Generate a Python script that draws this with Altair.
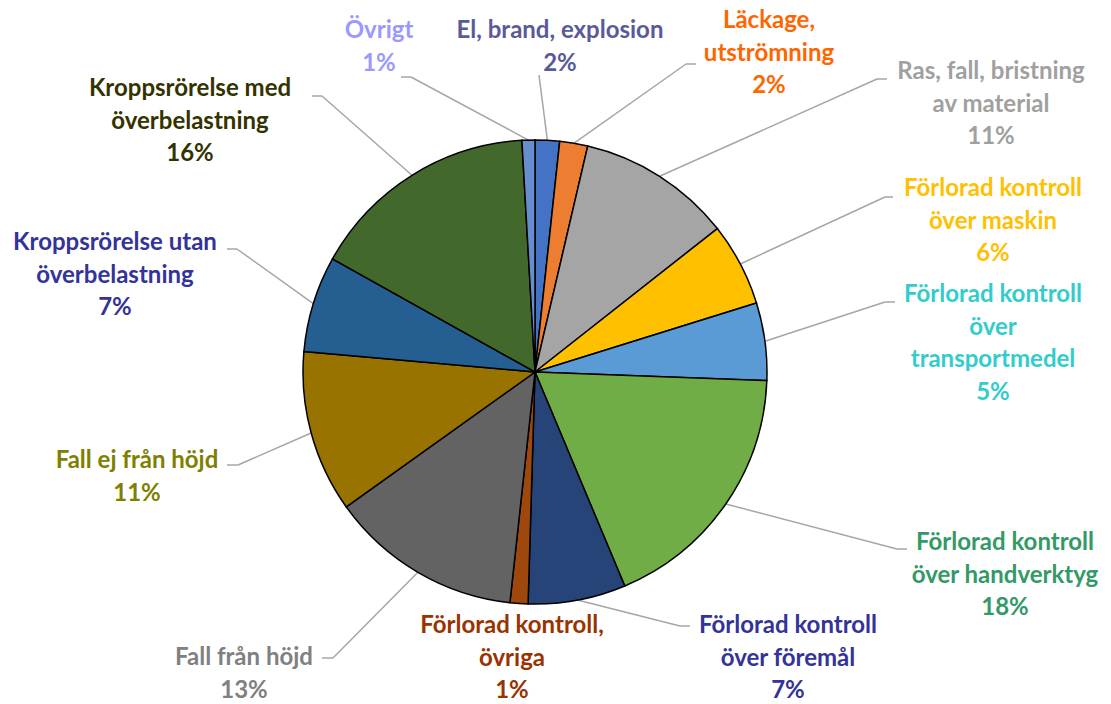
import math
import altair as alt
import pandas as pd

# ---- data ----
categories = [
    "El, brand, explosion", "Läckage, utströmning", "Ras, fall, bristning av material",
    "Förlorad kontroll över maskin", "Förlorad kontroll över transportmedel",
    "Förlorad kontroll över handverktyg", "Förlorad kontroll över föremål",
    "Förlorad kontroll, övriga", "Fall från höjd", "Fall ej från höjd",
    "Kroppsrörelse utan överbelastning", "Kroppsrörelse med överbelastning", "Övrigt",
]
shares = [1.7, 1.95, 10.75, 5.8, 5.4, 18.1, 6.8, 1.25, 13.4, 11.3, 6.7, 16.0, 0.9]
label_lines = [
    ["El, brand, explosion"], ["Läckage,", "utströmning"], ["Ras, fall, bristning", "av material"],
    ["Förlorad kontroll", "över maskin"], ["Förlorad kontroll", "över", "transportmedel"],
    ["Förlorad kontroll", "över handverktyg"], ["Förlorad kontroll", "över föremål"],
    ["Förlorad kontroll,", "övriga"], ["Fall från höjd"], ["Fall ej från höjd"],
    ["Kroppsrörelse utan", "överbelastning"], ["Kroppsrörelse med", "överbelastning"], ["Övrigt"],
]

# ---- styles ----
slice_colors = ["#4472C4", "#ED7D31", "#A5A5A5", "#FFC000", "#5B9BD5", "#70AD47", "#264478",
                "#9E480E", "#636363", "#997300", "#255E91", "#43682B", "#698ED0"]
label_colors = ["#5A5A9A", "#FF6600", "#A0A0A0", "#FFC000", "#33CCCC", "#339966", "#333399",
                "#993300", "#808080", "#808000", "#333399", "#333300", "#9999FF"]

# ---- layout (page pixels) ----
CX, CY, R = 535, 372, 232
label_x = [560, 769, 991, 993, 993, 1005, 788, 512, 244, 137, 115, 190, 379]
label_y = [31, 21, 72, 189, 295, 543, 626, 626, 658, 461, 243, 89, 31]
LINE_H = 32.7
elbow_x = [539, 686, 877, 885, 885, 897, 680, None, 333, 238, 237, 322, 411]
elbow_y = [75, 64, 79, 197, 302, 549, 626, None, 658, 465, 249, 96, 77]
end_x = [539, 696, 887, 893, 895, 907, 690, None, 322, 227, 227, 312, 401]

total = sum(shares)
df = pd.DataFrame({"idx": range(len(categories)), "category": categories, "share": shares})

text_rows, lead1, lead2 = [], [], []
cum = 0.0
for i, cat in enumerate(categories):
    pct = f"{round(shares[i] / total * 100)}%"
    lines = label_lines[i] + [pct]
    for j, t in enumerate(lines):
        text_rows.append({"x": label_x[i], "y": label_y[i] + j * LINE_H, "t": t, "c": label_colors[i]})
    a = 2 * math.pi * (cum + shares[i] / 2) / total
    cum += shares[i]
    if elbow_x[i] is not None:
        sx, sy = CX + R * math.sin(a), CY - R * math.cos(a)
        lead1.append({"x": sx, "y": sy, "x2": elbow_x[i], "y2": elbow_y[i]})
        lead2.append({"x": elbow_x[i], "y": elbow_y[i], "x2": end_x[i], "y2": elbow_y[i]})

W, H = 1095, 692
xs = alt.Scale(domain=[8, 8 + W], nice=False, zero=False)
ys = alt.Scale(domain=[8 + H, 8], nice=False, zero=False)

pie = alt.Chart(df).mark_arc(radius=R, stroke="black", strokeWidth=1.5).encode(
    theta=alt.Theta("share:Q", stack=True),
    order=alt.Order("idx:Q"),
    color=alt.Color("category:N", scale=alt.Scale(domain=categories, range=slice_colors), legend=None),
    x=alt.value(CX - 8),
    y=alt.value(CY - 8),
)

def rules(rows):
    return alt.Chart(pd.DataFrame(rows)).mark_rule(color="#A6A6A6", strokeWidth=1.5).encode(
        x=alt.X("x:Q", scale=xs, axis=None), y=alt.Y("y:Q", scale=ys, axis=None),
        x2="x2:Q", y2="y2:Q",
    )

texts = alt.Chart(pd.DataFrame(text_rows)).mark_text(
    font="Lato", fontWeight="bold", fontSize=24, align="center", baseline="middle"
).encode(
    x=alt.X("x:Q", scale=xs, axis=None), y=alt.Y("y:Q", scale=ys, axis=None),
    text="t:N", color=alt.Color("c:N", scale=None),
)

chart = alt.layer(rules(lead1), rules(lead2), pie, texts).properties(
    width=W, height=H, padding=0, autosize=alt.AutoSizeParams(type="none")
).configure_view(stroke=None)

chart.save("out.html", embed_options={"renderer": "svg", "actions": False})
